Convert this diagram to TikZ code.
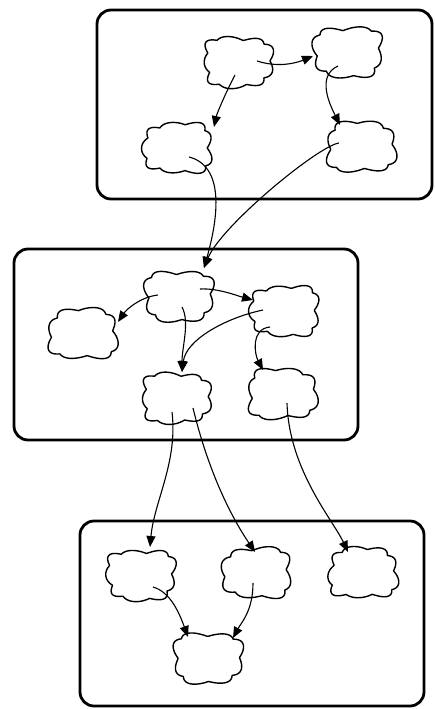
\documentclass[tikz,border=0pt]{standalone}
\usetikzlibrary{arrows.meta}

% A lumpy cloud: an invisible anchor node plus a scalloped outline around it.
% #1 name, #2 x, #3 y, #4 and #5 phases that vary the outline, #6 lobe factor
\newcommand\drawcloud[6]{%
  \node[cloudbox] (#1) at (#2,#3) {};
  \draw[cloudline, shift={(#2,#3)}]
    plot[domain=0:358, samples=180, smooth cycle, variable=\t]
    ({34*(1.08*cos(\t)-0.08*cos(3*\t))*(0.9+0.13*abs(sin(#6*\t+#4))+0.045*cos(3*\t+#5))},
     {25*(1.08*sin(\t)+0.08*sin(3*\t))*(0.9+0.13*abs(sin(#6*\t+#4))+0.045*cos(3*\t+#5))});
}

\begin{document}
\begin{tikzpicture}[x=1pt, y=-1pt,
  frame/.style={line width=2.8pt, rounded corners=14pt},
  cloudline/.style={line width=1.4pt, line join=round},
  cloudbox/.style={draw=none, minimum width=72pt, minimum height=52pt, inner sep=0pt},
  link/.style={line width=1.1pt, -{Triangle[length=11pt, width=9pt]}}]
\useasboundingbox (0,0) rectangle (435,709);

% the three groups
\draw[frame] (97,10) rectangle (432,199);
\draw[frame] (14,249) rectangle (358,440);
\draw[frame] (80,521) rectangle (424,706);

% top group
\drawcloud{A}{238}{62}{10}{40}{4.5}
\drawcloud{B}{348}{52}{30}{120}{4}
\drawcloud{C}{178}{148}{0}{200}{4.5}
\drawcloud{D}{361}{147}{20}{300}{4}

% middle group
\drawcloud{E}{179}{296}{15}{80}{4}
\drawcloud{F}{285}{311}{5}{160}{4.5}
\drawcloud{G}{83}{334}{25}{250}{4}
\drawcloud{H}{176}{398}{12}{20}{4.5}
\drawcloud{I}{282}{394}{35}{330}{4}

% bottom group
\drawcloud{J}{141}{575}{8}{100}{4.5}
\drawcloud{K}{257}{573}{28}{190}{4}
\drawcloud{L}{363}{573}{18}{280}{4.5}
\drawcloud{M}{208}{658}{3}{60}{4}

% connectors inside the top group
\draw[link] ([shift={(19,-1)}]A.center) .. controls +(25,8) and +(-12,5) .. ([shift={(-35,4)}]B.center);
\draw[link] ([shift={(-3,13)}]A.center) .. controls +(-8,15) and +(3,-14) .. ([shift={(36,-21)}]C.center);
\draw[link] ([shift={(-10,14)}]B.center) .. controls +(-22,10) and +(-10,-20) .. ([shift={(-21,-22)}]D.center);

% top group to middle group
\draw[link] ([shift={(11,9)}]C.center) .. controls +(35,9) and +(15,-53) .. ([shift={(25,-28)}]E.center);
\draw[link] ([shift={(-22,-4)}]D.center) .. controls +(-21,3) and +(17,-42) .. ([shift={(25,-28)}]E.center);

% connectors inside the middle group
\draw[link] ([shift={(21,-7)}]E.center) .. controls +(18,-1) and +(-15,-4) .. ([shift={(-32,-11)}]F.center);
\draw[link] ([shift={(-21,-1)}]E.center) .. controls +(-18,2) and +(8,-12) .. ([shift={(35,-12)}]G.center);
\draw[link] ([shift={(3,11)}]E.center) .. controls +(8,15) and +(0,-25) .. ([shift={(6,-26)}]H.center);
\draw[link] ([shift={(-22,-1)}]F.center) .. controls +(-38,8) and +(4,-32) .. ([shift={(6,-26)}]H.center);
\draw[link] ([shift={(-15,16)}]F.center) .. controls +(-20,2) and +(-8,-15) .. ([shift={(-19,-24)}]I.center);

% middle group to bottom group
\draw[link] ([shift={(-4,14)}]H.center) .. controls +(6,50) and +(4,-45) .. ([shift={(9,-28)}]J.center);
\draw[link] ([shift={(17,10)}]H.center) .. controls +(15,62) and +(-25,-37) .. ([shift={(-2,-21)}]K.center);
\draw[link] ([shift={(5,9)}]I.center) .. controls +(2,67) and +(-15,-32) .. ([shift={(-15,-21)}]L.center);

% connectors inside the bottom group
\draw[link] ([shift={(12,12)}]J.center) .. controls +(18,5) and +(-8,-22) .. ([shift={(-20,-21)}]M.center);
\draw[link] ([shift={(-4,10)}]K.center) .. controls +(0,28) and +(8,-15) .. ([shift={(25,-20)}]M.center);
\end{tikzpicture}
\end{document}
